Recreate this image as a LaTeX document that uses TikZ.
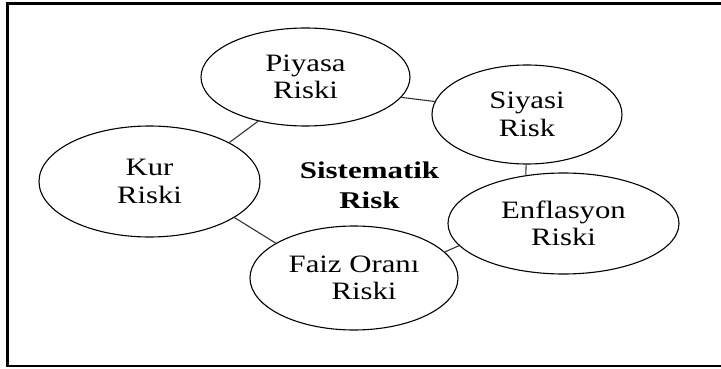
\documentclass[tikz,border=0pt]{standalone}
\usepackage{fontspec}
\setmainfont{Liberation Serif}[FakeStretch=1.23]
\newfontfamily\hubfont{Liberation Serif}[FakeStretch=1.29]
\usetikzlibrary{shapes.geometric}
\begin{document}
\begin{tikzpicture}[x=1pt,y=-1pt,
  riskbox/.style={ellipse,draw=black,line width=1.1pt,inner sep=0pt,
    align=center,font=\fontsize{25}{27.5}\selectfont},
  link/.style={draw=black!80,line width=1.1pt},
  frame/.style={draw=black,line width=2.4pt}]
\useasboundingbox (0,0) rectangle (721,369);
% outer frame, running off the right edge
\draw[frame] (730,3.5) -- (7.5,3.5) -- (7.5,366) -- (730,366);

% risk types
\node[riskbox,minimum width=209pt,minimum height=98pt]  (piyasa) at (305.5,77)  {Piyasa\\Riski};
\node[riskbox,minimum width=190pt,minimum height=99pt]  (siyasi) at (527,114.5) {Siyasi\\Risk};
\node[riskbox,minimum width=221pt,minimum height=111pt] (kur)    at (149.5,181.5) {Kur\\Riski};
\node[riskbox,minimum width=231pt,minimum height=101pt] (enf)    at (563.5,223.5) {Enflasyon\\Riski};
\node[riskbox,minimum width=208pt,minimum height=104pt] (faiz)   at (354,278)   {Faiz Oran\i\\\hspace*{20pt}Riski};

% central label
\node[align=center,font=\hubfont\bfseries\fontsize{24}{30}\selectfont] (sys) at (369.5,185) {Sistematik\\Risk};

% links between neighbouring risks
\draw[link] (kur.26)     -- (piyasa.223);
\draw[link] (piyasa.-12) -- (siyasi.172);
\draw[link] (siyasi.269) -- (enf.128);
\draw[link] (enf.192)    -- (faiz.16.5);
\draw[link] (kur.-23.6)  -- (faiz.156.7);
\end{tikzpicture}
\end{document}
